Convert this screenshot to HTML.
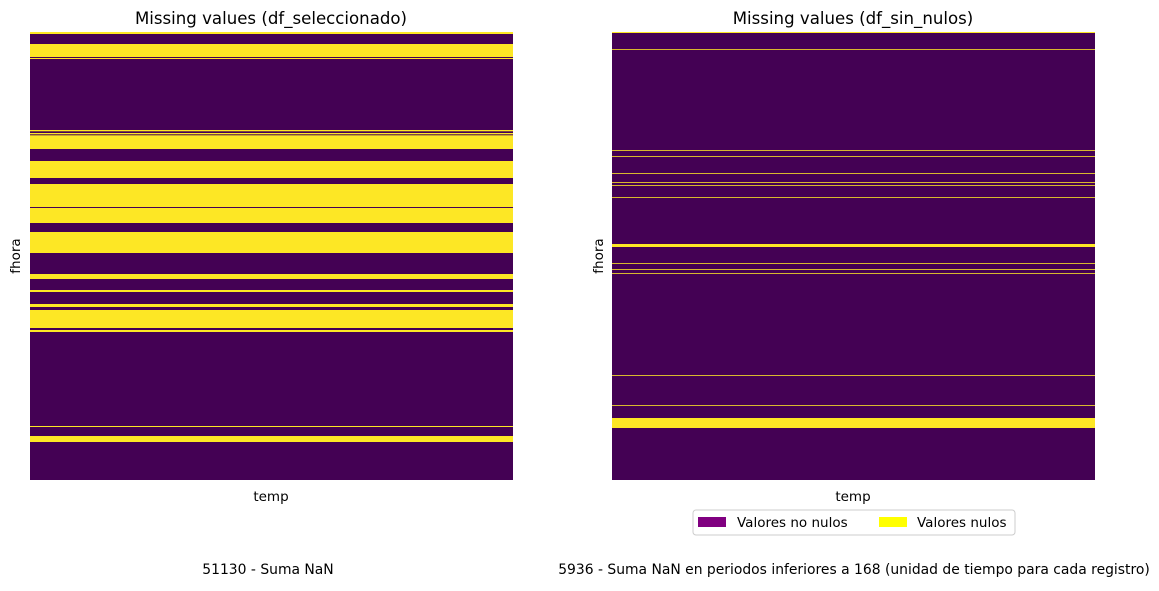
<!DOCTYPE html>
<html><head><meta charset="utf-8">
<style>
body{margin:0;background:#fff;font-family:"DejaVu Sans","Liberation Sans",sans-serif;}
svg text{font-family:"DejaVu Sans","Liberation Sans",sans-serif;fill:#000;}
</style></head>
<body>
<svg id="chart" width="1159" height="587" viewBox="0 0 1159 587" xmlns="http://www.w3.org/2000/svg">
<rect width="1159" height="587" fill="#fff"/>
<g id="left"></g>
<g id="right"></g>
<text x="271" y="24" font-size="16.6" text-anchor="middle">Missing values (df_seleccionado)</text>
<text x="853" y="24" font-size="16.6" text-anchor="middle">Missing values (df_sin_nulos)</text>
<text x="0" y="0" font-size="13.5" text-anchor="middle" transform="translate(20,256) rotate(-90)">fhora</text>
<text x="0" y="0" font-size="13.5" text-anchor="middle" transform="translate(603,256) rotate(-90)">fhora</text>
<text x="271" y="501" font-size="13.5" text-anchor="middle">temp</text>
<text x="853" y="501" font-size="13.5" text-anchor="middle">temp</text>
<g>
<rect x="693" y="510" width="322" height="25" rx="3" fill="#fff" stroke="#ccc"/>
<rect x="698" y="517" width="28" height="10" fill="#800080"/>
<text x="737" y="527" font-size="13.5">Valores no nulos</text>
<rect x="879" y="517" width="28" height="10" fill="#ffff00"/>
<text x="917" y="527" font-size="13.5">Valores nulos</text>
</g>
<text x="268" y="574" font-size="13.9" text-anchor="middle">51130 - Suma NaN</text>
<text x="854" y="574" font-size="13.9" text-anchor="middle">5936 - Suma NaN en periodos inferiores a 168 (unidad de tiempo para cada registro)</text>
</svg>
<script>
// row units: 0..448 total rows (scaled), intervals of missing values [start,end]
const totalRows = 448;
const leftNullStarts = [0, 12, 26, 98, 101, 103.3, 129, 152, 176, 200, 242, 258, 272, 278, 298, 394, 404];
const leftNullEnds   = [2, 25, 27, 99.3, 102.3, 117, 146, 175, 191, 221, 247, 260, 275, 296, 300, 395, 410];
const rightNullStarts = [0, 17, 118, 124, 141, 150, 153, 165, 212, 231, 237, 241, 343, 373, 386];
const rightNullEnds   = [1, 17.8, 118.8, 124.8, 141.8, 150.8, 153.8, 165.8, 215, 231.8, 237.8, 241.8, 343.8, 373.8, 396];

const plotTop = 32, plotBottom = 480;
function yScale(r){ return plotTop + (r / totalRows) * (plotBottom - plotTop); }
const NS = "http://www.w3.org/2000/svg";
function draw(gid, x0, x1, starts, ends, prefix){
  const g = document.getElementById(gid);
  const bg = document.createElementNS(NS, "rect");
  
  
  bg.setAttribute("x", x0); bg.setAttribute("y", plotTop);
  bg.setAttribute("width", x1 - x0); bg.setAttribute("height", plotBottom - plotTop);
  bg.setAttribute("fill", "#440154");
  g.appendChild(bg);
  for (let i = 0; i < starts.length; i++){
    const r = document.createElementNS(NS, "rect");
    
    
    const y0 = yScale(starts[i]), y1 = yScale(ends[i]);
    r.setAttribute("x", x0); r.setAttribute("y", y0);
    r.setAttribute("width", x1 - x0); r.setAttribute("height", Math.max(0.8, y1 - y0));
    r.setAttribute("fill", "#fde725");
    g.appendChild(r);
  }
}
draw("left", 30, 513, leftNullStarts, leftNullEnds, "left");
draw("right", 612, 1095, rightNullStarts, rightNullEnds, "right");
</script>
</body></html>
